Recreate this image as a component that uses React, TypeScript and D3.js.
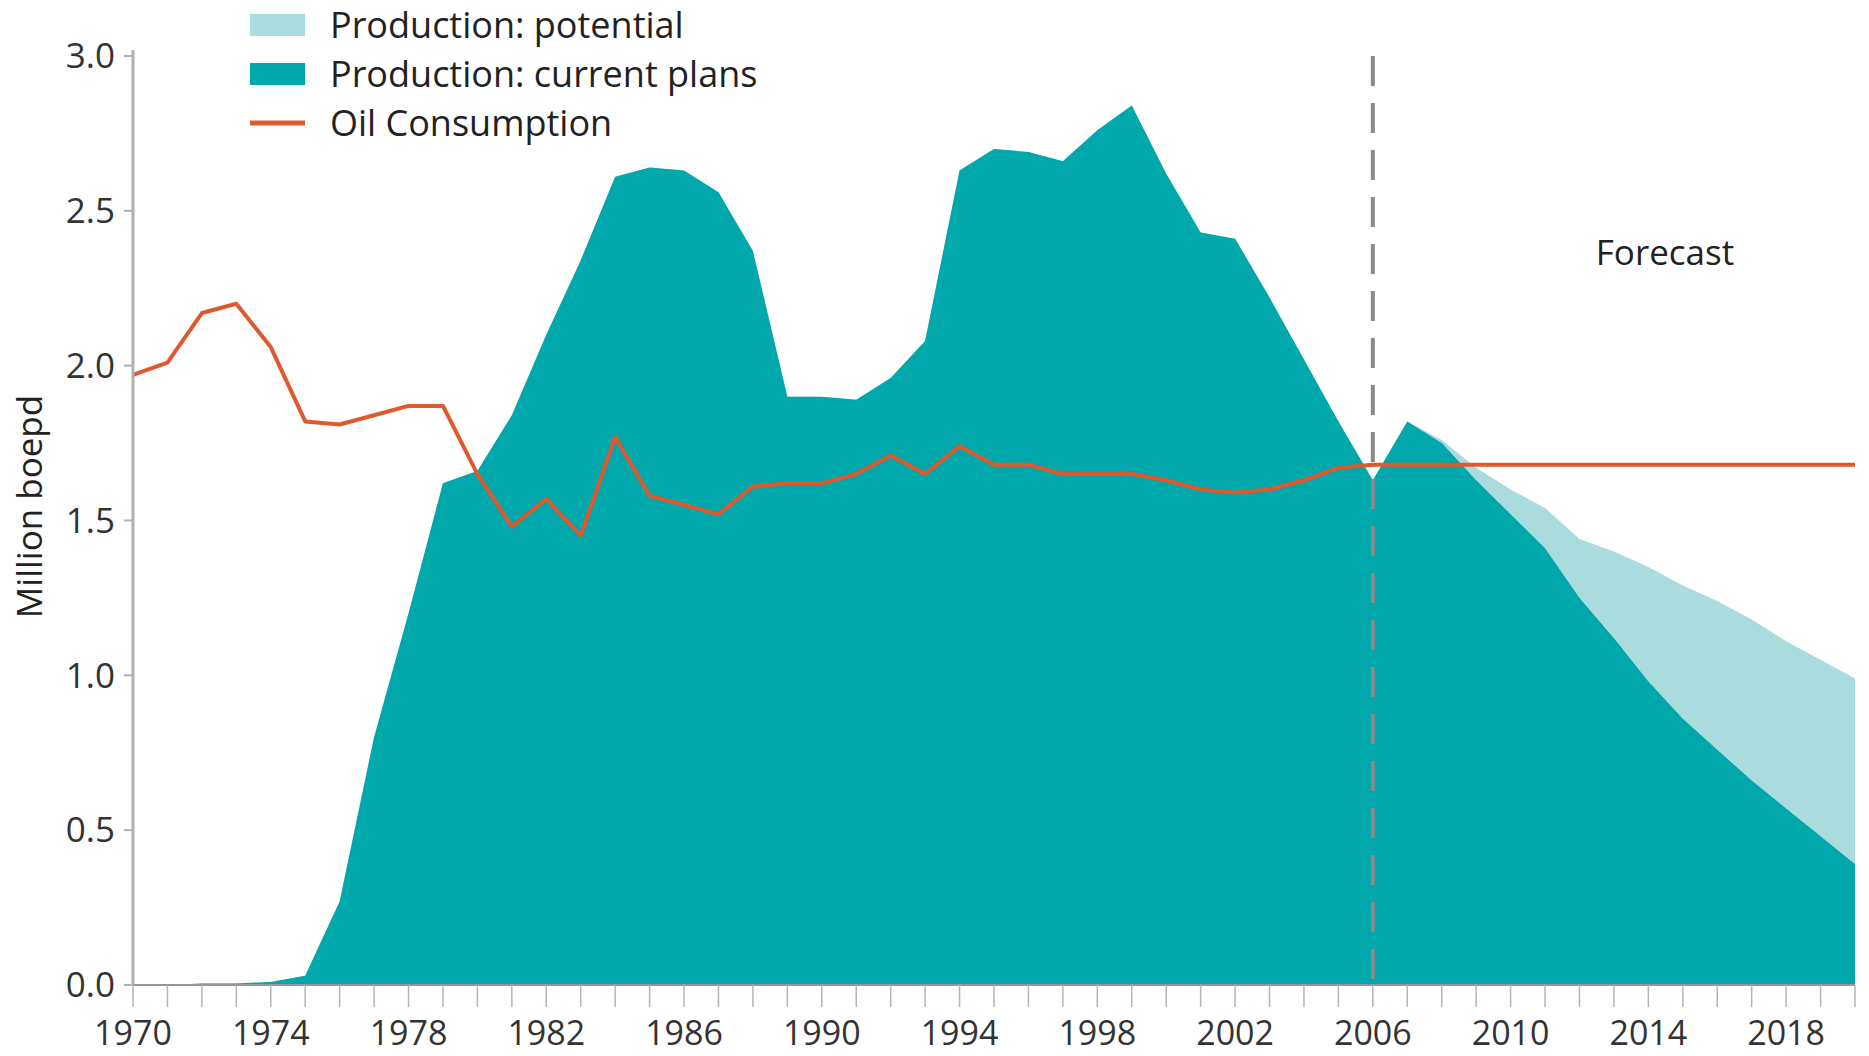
import * as d3 from 'd3';

const years = [
  1970, 1971, 1972, 1973, 1974, 1975, 1976, 1977, 1978, 1979,
  1980, 1981, 1982, 1983, 1984, 1985, 1986, 1987, 1988, 1989,
  1990, 1991, 1992, 1993, 1994, 1995, 1996, 1997, 1998, 1999,
  2000, 2001, 2002, 2003, 2004, 2005, 2006, 2007, 2008, 2009,
  2010, 2011, 2012, 2013, 2014, 2015, 2016, 2017, 2018, 2019, 2020,
];

// million boepd
const currentPlans = [
  0, 0, 0.005, 0.005, 0.01, 0.03, 0.27, 0.8, 1.2, 1.62,
  1.66, 1.84, 2.1, 2.34, 2.61, 2.64, 2.63, 2.56, 2.37, 1.9,
  1.9, 1.89, 1.96, 2.08, 2.63, 2.7, 2.69, 2.66, 2.76, 2.84,
  2.62, 2.43, 2.41, 2.22, 2.02, 1.82, 1.63, 1.82, 1.75, 1.63,
  1.52, 1.41, 1.25, 1.12, 0.98, 0.86, 0.76, 0.66, 0.57, 0.48, 0.39,
];

const potential = [
  0, 0, 0.005, 0.005, 0.01, 0.03, 0.27, 0.8, 1.2, 1.62,
  1.66, 1.84, 2.1, 2.34, 2.61, 2.64, 2.63, 2.56, 2.37, 1.9,
  1.9, 1.89, 1.96, 2.08, 2.63, 2.7, 2.69, 2.66, 2.76, 2.84,
  2.62, 2.43, 2.41, 2.22, 2.02, 1.82, 1.63, 1.82, 1.76, 1.67,
  1.6, 1.54, 1.44, 1.4, 1.35, 1.29, 1.24, 1.18, 1.11, 1.05, 0.99,
];

const consumption = [
  1.97, 2.01, 2.17, 2.2, 2.06, 1.82, 1.81, 1.84, 1.87, 1.87,
  1.65, 1.48, 1.57, 1.45, 1.77, 1.58, 1.55, 1.52, 1.61, 1.62,
  1.62, 1.65, 1.71, 1.65, 1.74, 1.68, 1.68, 1.65, 1.65, 1.65,
  1.63, 1.6, 1.59, 1.6, 1.63, 1.67, 1.68, 1.68, 1.68, 1.68,
  1.68, 1.68, 1.68, 1.68, 1.68, 1.68, 1.68, 1.68, 1.68, 1.68, 1.68,
];

const yTicks = [0, 0.5, 1, 1.5, 2, 2.5, 3];
const xLabels = [1970, 1974, 1978, 1982, 1986, 1990, 1994, 1998, 2002, 2006, 2010, 2014, 2018];
const forecastYear = 2006;

const legendItems = [
  { label: 'Production: potential', kind: 'box', color: '#aadcde' },
  { label: 'Production: current plans', kind: 'box', color: '#00a8ab' },
  { label: 'Oil Consumption', kind: 'line', color: '#de5a2e' },
];

const W = 1869;
const H = 1056;
const font = "'Open Sans', 'Noto Sans', sans-serif";

const App = () => {
  const x = d3.scaleLinear().domain([1970, 2020]).range([133, 1855]);
  const y = d3.scaleLinear().domain([0, 3]).range([985, 56]);

  const areaGen = (vals: number[]) =>
    d3.area<number>()
      .x((_, i) => x(years[i]))
      .y0(y(0))
      .y1((d) => y(d))(vals) as string;

  const lineGen = d3.line<number>()
    .x((_, i) => x(years[i]))
    .y((d) => y(d));

  return (
    <svg width={W} height={H} style={{ position: 'absolute', left: 0, top: 0, display: 'block', background: '#fff' }}>
      <path d={areaGen(potential)} fill="#aadcde" />
      <path d={areaGen(currentPlans)} fill="#00a8ab" />

      <line x1={x(forecastYear)} x2={x(forecastYear)} y1={y(3)} y2={y(0)}
        stroke="#8a8a8a" strokeWidth={4} strokeDasharray="30 17" />

      <path d={lineGen(consumption) as string} fill="none" stroke="#de5a2e" strokeWidth={4} strokeLinejoin="round" />

      {/* y axis */}
      <line x1={x(1970)} x2={x(1970)} y1={y(3) - 6} y2={y(0)} stroke="#b0b0b0" strokeWidth={3} />
      {yTicks.map((t) => (
        <g key={t}>
          <line x1={x(1970) - 9} x2={x(1970)} y1={y(t)} y2={y(t)} stroke="#b0b0b0" strokeWidth={2} />
          <text x={x(1970) - 18} y={y(t)} dy="0.35em" textAnchor="end" fontFamily={font} fontSize={35} fill="#333">
            {d3.format('.1f')(t)}
          </text>
        </g>
      ))}
      <text transform={`translate(42, ${(y(0) + y(3)) / 2 - 14}) rotate(-90)`} textAnchor="middle"
        fontFamily={font} fontSize={35} fill="#222">Million boepd</text>

      {/* x axis */}
      <line x1={x(1970)} x2={x(2020)} y1={y(0)} y2={y(0)} stroke="#8c9a9a" strokeWidth={2} />
      {years.map((yr) => (
        <line key={yr} x1={x(yr)} x2={x(yr)} y1={y(0)} y2={y(0) + 22} stroke="#b5b5b5" strokeWidth={1.5} />
      ))}
      {xLabels.map((yr) => (
        <text key={yr} x={x(yr)} y={1045} textAnchor="middle" fontFamily={font} fontSize={34} fill="#333">{yr}</text>
      ))}

      <text x={1665} y={253} dy="0.35em" textAnchor="middle" fontFamily={font} fontSize={35} fill="#222">Forecast</text>

      {/* legend */}
      {legendItems.map((it, i) => {
        const cy = 25 + i * 49;
        return (
          <g key={it.label}>
            {it.kind === 'box'
              ? <rect x={250} y={cy - 11} width={55} height={22} fill={it.color} />
              : <line x1={250} x2={305} y1={cy} y2={cy} stroke={it.color} strokeWidth={5} />}
            <text x={330} y={cy} dy="0.35em" fontFamily={font} fontSize={36} fill="#222">{it.label}</text>
          </g>
        );
      })}
    </svg>
  );
};

export default App;
